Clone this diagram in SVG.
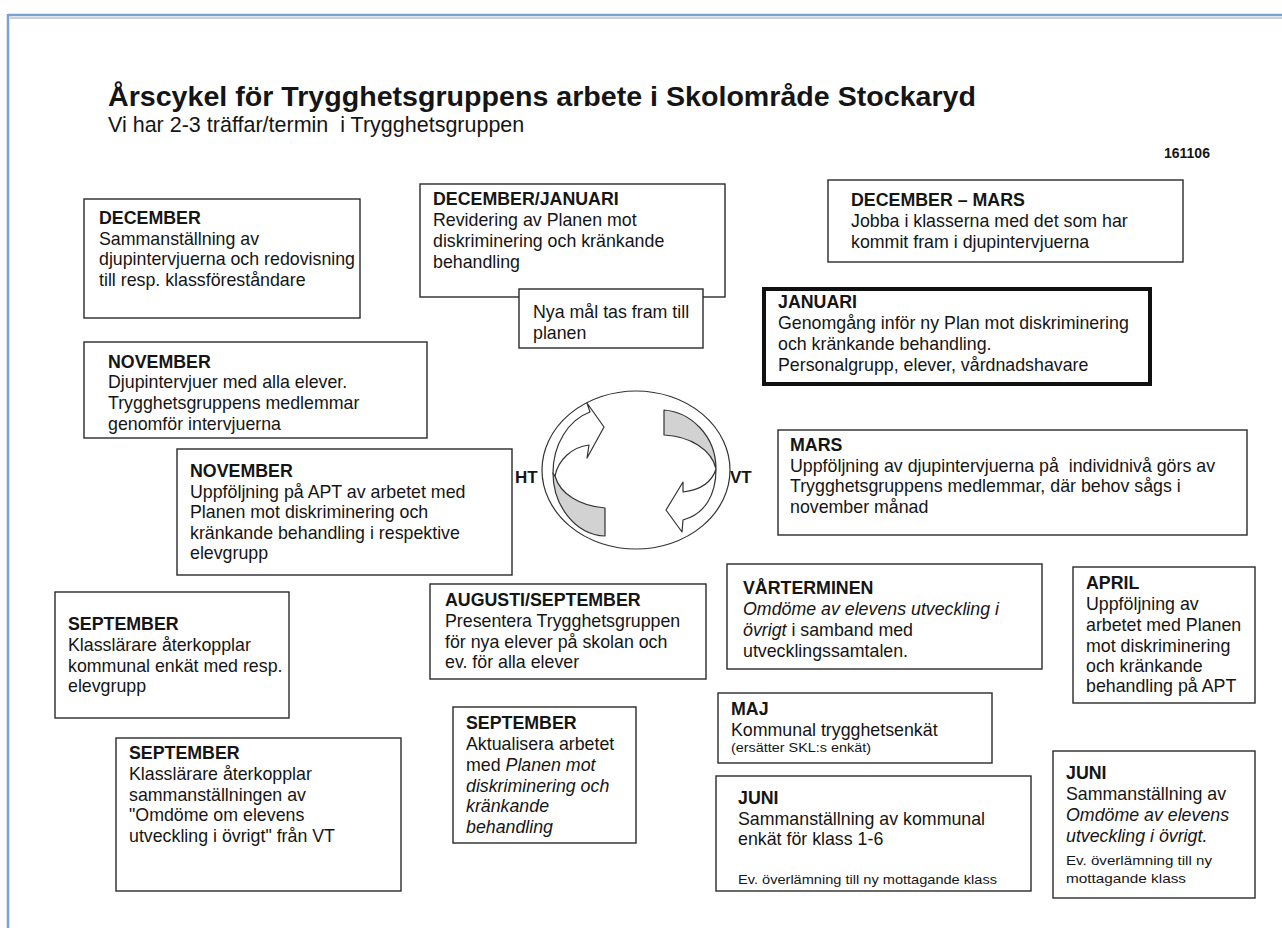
<svg xmlns="http://www.w3.org/2000/svg" width="1282" height="928" viewBox="0 0 1282 928">
<style>
.box{fill:#fff;stroke:#2a2a2a;stroke-width:1.4}
.thick{fill:#fff;stroke:#111;stroke-width:4}
text{font-family:"Liberation Sans",Arial,Helvetica,sans-serif;fill:#151515}
.t{font-size:17.8px}
.b{font-weight:bold}
.i{font-style:italic}
.s{font-size:13.5px}
.pre{white-space:pre}
.arw{stroke:#333;stroke-width:1.2;stroke-linejoin:round}
</style>
<rect width="1282" height="928" fill="#fff"/>
<line x1="10" y1="18" x2="1282" y2="18" stroke="#cfcfcf" stroke-width="2"/>
<line x1="8" y1="15" x2="1282" y2="15" stroke="#79a2d3" stroke-width="2.5"/>
<line x1="8" y1="14" x2="8" y2="928" stroke="#79a2d3" stroke-width="2.5"/>

<g id="header">
<text x="108" y="106" class="b" font-size="28" textLength="868" lengthAdjust="spacingAndGlyphs">Årscykel för Trygghetsgruppens arbete i Skolområde Stockaryd</text>
<text x="108" y="132" font-size="21.5" class="pre">Vi har 2-3 träffar/termin  i Trygghetsgruppen</text>
<text x="1164" y="158" class="b" font-size="14">161106</text>
</g>

<g id="cycle">
<ellipse cx="636" cy="470" rx="94" ry="79" fill="#fff" stroke="#333" stroke-width="1.2"/>
<path class="arw" fill="#d2d2d2" d="M553,473 C553,505 575,535 605,536 L605,508 C580,506 560,494 555,476 Z"/>
<path class="arw" fill="#fff" d="M553,473 C553,445 568,420 590,412 L587,403 L604,427 L587,458 L589,445 C572,447 558,460 555,476 Z"/>
<path class="arw" fill="#d2d2d2" d="M664,410 C690,412 716,435 716,469 C712,450 690,436 664,435 Z"/>
<path class="arw" fill="#fff" d="M716,469 C712,482 700,490 683,492 L683,482 L666,510 L682,532 L683,520 C705,514 716,495 716,469 Z"/>
<text x="515" y="483" class="b" font-size="17" fill="#1b1b2f">HT</text>
<text x="730" y="483" class="b" font-size="17" fill="#1b1b2f">VT</text>
</g>

<g id="connectors"></g>

<g id="dec">
<rect class="box" x="84" y="199" width="276" height="119"/>
<text class="t" x="99"><tspan class="b" x="99" y="224">DECEMBER</tspan><tspan x="99" y="245">Sammanställning av</tspan><tspan x="99" y="265">djupintervjuerna och redovisning</tspan><tspan x="99" y="286">till resp. klassföreståndare</tspan></text>
</g>

<g id="decjan">
<rect class="box" x="420" y="184" width="305" height="113"/>
<text class="t"><tspan class="b" x="433" y="205">DECEMBER/JANUARI</tspan><tspan x="433" y="226">Revidering av Planen mot</tspan><tspan x="433" y="247">diskriminering och kränkande</tspan><tspan x="433" y="268">behandling</tspan></text>
</g>

<g id="nyamal">
<rect class="box" x="519" y="289" width="184" height="59"/>
<text class="t"><tspan x="533" y="318">Nya mål tas fram till</tspan><tspan x="533" y="339">planen</tspan></text>
</g>

<g id="decmars">
<rect class="box" x="828" y="180" width="355" height="82"/>
<text class="t"><tspan class="b" x="851" y="206">DECEMBER – MARS</tspan><tspan x="851" y="227">Jobba i klasserna med det som har</tspan><tspan x="851" y="248">kommit fram i djupintervjuerna</tspan></text>
</g>

<g id="januari">
<rect class="thick" x="764" y="289" width="386" height="95"/>
<text class="t"><tspan class="b" x="778" y="308">JANUARI</tspan><tspan x="778" y="329">Genomgång inför ny Plan mot diskriminering</tspan><tspan x="778" y="350">och kränkande behandling.</tspan><tspan x="778" y="371">Personalgrupp, elever, vårdnadshavare</tspan></text>
</g>

<g id="nov1">
<rect class="box" x="84" y="342" width="343" height="96"/>
<text class="t"><tspan class="b" x="108" y="368">NOVEMBER</tspan><tspan x="108" y="388">Djupintervjuer med alla elever.</tspan><tspan x="108" y="409">Trygghetsgruppens medlemmar</tspan><tspan x="108" y="430">genomför intervjuerna</tspan></text>
</g>

<g id="nov2">
<rect class="box" x="177" y="449" width="335" height="126"/>
<text class="t"><tspan class="b" x="190" y="477">NOVEMBER</tspan><tspan x="190" y="498">Uppföljning på APT av arbetet med</tspan><tspan x="190" y="518">Planen mot diskriminering och</tspan><tspan x="190" y="539">kränkande behandling i respektive</tspan><tspan x="190" y="559">elevgrupp</tspan></text>
</g>

<g id="mars">
<rect class="box" x="778" y="430" width="469" height="105"/>
<text class="t pre"><tspan class="b" x="790" y="451">MARS</tspan><tspan x="790" y="472">Uppföljning av djupintervjuerna på  individnivå görs av</tspan><tspan x="790" y="492">Trygghetsgruppens medlemmar, där behov sågs i</tspan><tspan x="790" y="513">november månad</tspan></text>
</g>

<g id="sep1">
<rect class="box" x="55" y="592" width="234" height="126"/>
<text class="t"><tspan class="b" x="68" y="630">SEPTEMBER</tspan><tspan x="68" y="651">Klasslärare återkopplar</tspan><tspan x="68" y="672">kommunal enkät med resp.</tspan><tspan x="68" y="692">elevgrupp</tspan></text>
</g>

<g id="augsep">
<rect class="box" x="430" y="584" width="276" height="95"/>
<text class="t"><tspan class="b" x="445" y="606">AUGUSTI/SEPTEMBER</tspan><tspan x="445" y="627">Presentera Trygghetsgruppen</tspan><tspan x="445" y="648">för nya elever på skolan och</tspan><tspan x="445" y="668">ev. för alla elever</tspan></text>
</g>

<g id="sep2">
<rect class="box" x="116" y="738" width="285" height="153"/>
<text class="t"><tspan class="b" x="129" y="759">SEPTEMBER</tspan><tspan x="129" y="780">Klasslärare återkopplar</tspan><tspan x="129" y="801">sammanställningen av</tspan><tspan x="129" y="821">"Omdöme om elevens</tspan><tspan x="129" y="842">utveckling i övrigt" från VT</tspan></text>
</g>

<g id="sep3">
<rect class="box" x="453" y="707" width="183" height="136"/>
<text class="t"><tspan class="b" x="466" y="729">SEPTEMBER</tspan><tspan x="466" y="750">Aktualisera arbetet</tspan><tspan x="466" y="771">med <tspan class="i">Planen mot</tspan></tspan><tspan class="i" x="466" y="792">diskriminering och</tspan><tspan class="i" x="466" y="812">kränkande</tspan><tspan class="i" x="466" y="833">behandling</tspan></text>
</g>

<g id="varterminen">
<rect class="box" x="727" y="564" width="315" height="105"/>
<text class="t"><tspan class="b" x="743" y="594">VÅRTERMINEN</tspan><tspan class="i" x="743" y="615">Omdöme av elevens utveckling i</tspan><tspan x="743" y="636"><tspan class="i">övrigt</tspan> i samband med</tspan><tspan x="743" y="657">utvecklingssamtalen.</tspan></text>
</g>

<g id="april">
<rect class="box" x="1073" y="567" width="182" height="136"/>
<text class="t"><tspan class="b" x="1086" y="589">APRIL</tspan><tspan x="1086" y="610">Uppföljning av</tspan><tspan x="1086" y="631">arbetet med Planen</tspan><tspan x="1086" y="652">mot diskriminering</tspan><tspan x="1086" y="672">och kränkande</tspan><tspan x="1086" y="692">behandling på APT</tspan></text>
</g>

<g id="maj">
<rect class="box" x="718" y="693" width="274" height="70"/>
<text class="t"><tspan class="b" x="731" y="715">MAJ</tspan><tspan x="731" y="736">Kommunal trygghetsenkät</tspan></text>
<text class="s" x="731" y="752" textLength="140" lengthAdjust="spacingAndGlyphs">(ersätter SKL:s enkät)</text>
</g>

<g id="juni1">
<rect class="box" x="716" y="776" width="315" height="115"/>
<text class="t"><tspan class="b" x="738" y="804">JUNI</tspan><tspan x="738" y="825">Sammanställning av kommunal</tspan><tspan x="738" y="845">enkät för klass 1-6</tspan></text>
<text class="s" x="738" y="884" textLength="259" lengthAdjust="spacingAndGlyphs">Ev. överlämning till ny mottagande klass</text>
</g>

<g id="juni2">
<rect class="box" x="1053" y="751" width="202" height="147"/>
<text class="t"><tspan class="b" x="1066" y="779">JUNI</tspan><tspan x="1066" y="800">Sammanställning av</tspan><tspan class="i" x="1066" y="821">Omdöme av elevens</tspan><tspan class="i" x="1066" y="842">utveckling i övrigt.</tspan></text>
<text class="s"><tspan x="1066" y="865" textLength="146" lengthAdjust="spacingAndGlyphs">Ev. överlämning till ny</tspan></text>
<text class="s"><tspan x="1066" y="883" textLength="120" lengthAdjust="spacingAndGlyphs">mottagande klass</tspan></text>
</g>
</svg>
